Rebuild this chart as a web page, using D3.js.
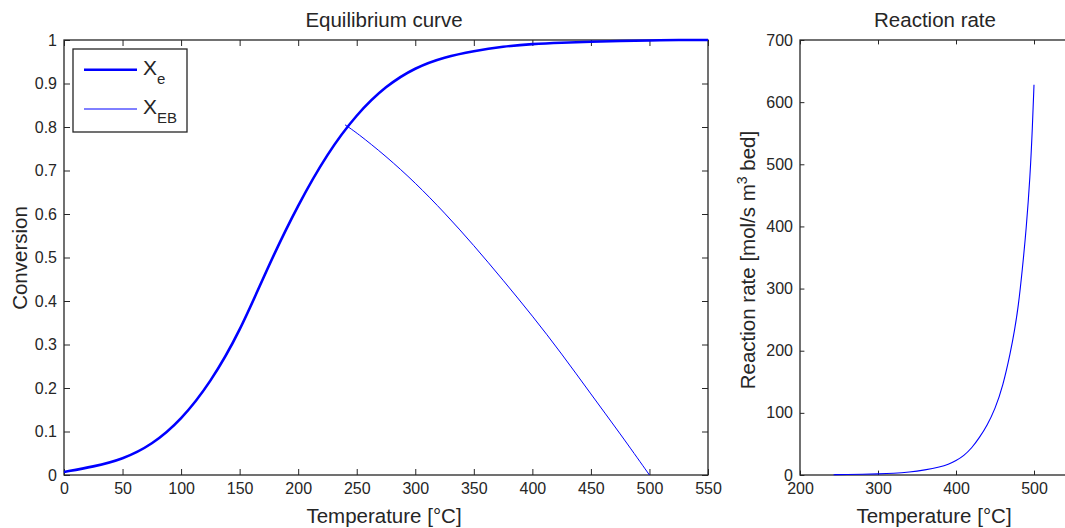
<!DOCTYPE html>
<html>
<head>
<meta charset="utf-8">
<script src="https://cdn.jsdelivr.net/npm/d3@7"></script>
<style>
  body { margin: 0; background: #fff; }
  svg { display: block; font-family: "Liberation Sans", Arial, sans-serif; }
</style>
</head>
<body>
<div id="chart"></div>
<script>
// equilibrium conversion Xe vs temperature
var eqTemp = [0, 25, 50, 75, 100, 125, 150, 175, 200, 225, 250, 275, 300, 325, 350, 375, 400, 425, 450, 475, 500, 525, 550];
var eqConv = [0.007, 0.019, 0.036, 0.069, 0.126, 0.212, 0.328, 0.484, 0.622, 0.74, 0.83, 0.895, 0.937, 0.961, 0.975, 0.985, 0.991, 0.994, 0.996, 0.998, 0.999, 1.0, 1.0];
// energy balance line XEB
var ebTemp = [240, 250, 275, 300, 325, 350, 375, 400, 425, 450, 475, 500];
var ebConv = [0.805, 0.787, 0.733, 0.672, 0.603, 0.528, 0.448, 0.366, 0.279, 0.186, 0.095, 0];
// reaction rate
var rateTemp = [243, 260, 280, 300, 320, 340, 360, 380, 390, 400, 410, 420, 430, 440, 450, 460, 470, 475, 480, 485, 490, 495, 498, 500];
var rateVal = [0.5, 0.8, 1.2, 1.8, 2.6, 4.5, 8, 13, 17, 23, 31, 43, 60, 80, 106, 142, 198, 232, 272, 330, 395, 480, 560, 628];

var xTicksLeft = d3.range(0, 551, 50);
var yTicksLeft = d3.range(0, 1.001, 0.1);
var xTicksRight = [200, 300, 400, 500];
var yTicksRight = d3.range(0, 701, 100);

var W = 1065, H = 528;
var ink = "#262626";

var svg = d3.select("#chart").append("svg")
    .attr("width", W).attr("height", H);
svg.append("rect").attr("width", W).attr("height", H).attr("fill", "#fff");

function zip(a, b) { return a.map(function(d, i){ return [d, b[i]]; }); }

function panel(box, xDom, yDom, xTicks, yTicks, tick, yFmt) {
    var x = d3.scaleLinear().domain(xDom).range([box.x0, box.x1]);
    var y = d3.scaleLinear().domain(yDom).range([box.y1, box.y0]);
    var g = svg.append("g");

    // ticks on all four sides, pointing in
    function styleAxis(sel) {
        sel.select(".domain").remove();
        sel.selectAll("line").attr("stroke", ink);
        sel.selectAll("text").attr("fill", ink).attr("font-size", "16px");
    }
    g.append("g").attr("transform", "translate(0," + box.y1 + ")")
        .call(d3.axisBottom(x).tickValues(xTicks).tickSize(-tick).tickPadding(8).tickFormat(d3.format("d")))
        .call(styleAxis);
    g.append("g").attr("transform", "translate(0," + box.y0 + ")")
        .call(d3.axisTop(x).tickValues(xTicks).tickSize(-tick).tickFormat(""))
        .call(styleAxis);
    g.append("g").attr("transform", "translate(" + box.x0 + ",0)")
        .call(d3.axisLeft(y).tickValues(yTicks).tickSize(-tick).tickPadding(7).tickFormat(yFmt))
        .call(styleAxis);
    g.append("g").attr("transform", "translate(" + box.x1 + ",0)")
        .call(d3.axisRight(y).tickValues(yTicks).tickSize(-tick).tickFormat(""))
        .call(styleAxis);

    g.append("rect")
        .attr("x", box.x0).attr("y", box.y0)
        .attr("width", box.x1 - box.x0).attr("height", box.y1 - box.y0)
        .attr("fill", "none").attr("stroke", ink).attr("stroke-width", 1.3);

    return {x: x, y: y, g: g};
}

// ---------- left: equilibrium curve
var L = panel({x0: 64, x1: 708, y0: 40, y1: 475}, [0, 550], [0, 1],
    xTicksLeft, yTicksLeft, 6,
    function(d){ return d === 0 ? "0" : d === 1 ? "1" : d3.format(".1f")(d); });

var lineL = d3.line().x(function(d){ return L.x(d[0]); }).y(function(d){ return L.y(d[1]); })
    .curve(d3.curveBasis);

L.g.append("path").datum(zip(eqTemp, eqConv))
    .attr("d", lineL).attr("fill", "none").attr("stroke", "#0000ff").attr("stroke-width", 2.6);
L.g.append("path").datum(zip(ebTemp, ebConv))
    .attr("d", lineL).attr("fill", "none").attr("stroke", "#0000ff").attr("stroke-width", 1);

svg.append("text").attr("x", 384).attr("y", 27).attr("text-anchor", "middle")
    .attr("font-size", "20.5px").attr("fill", ink).text("Equilibrium curve");
svg.append("text").attr("x", 384).attr("y", 523).attr("text-anchor", "middle")
    .attr("font-size", "20.5px").attr("fill", ink).text("Temperature [°C]");
svg.append("text").attr("transform", "translate(27,258) rotate(-90)").attr("text-anchor", "middle")
    .attr("font-size", "20.5px").attr("fill", ink).text("Conversion");

// legend
var legendItems = [
    {sub: "e", width: 2.6, ly: 69.7},
    {sub: "EB", width: 1, ly: 109}
];
var leg = svg.append("g");
leg.append("rect").attr("x", 73).attr("y", 49).attr("width", 114).attr("height", 83)
    .attr("fill", "#fff").attr("stroke", ink).attr("stroke-width", 1.3);
legendItems.forEach(function(it){
    leg.append("line").attr("x1", 84).attr("x2", 137).attr("y1", it.ly).attr("y2", it.ly)
        .attr("stroke", "#0000ff").attr("stroke-width", it.width);
    var t = leg.append("text").attr("x", 143).attr("y", it.ly + 5).attr("fill", ink).attr("font-size", "21px");
    t.append("tspan").text("X");
    t.append("tspan").attr("dy", 9).attr("font-size", "15px").text(it.sub);
});

// ---------- right: reaction rate
var R = panel({x0: 800, x1: 1073, y0: 40, y1: 475}, [200, 550], [0, 700],
    xTicksRight, yTicksRight, 4.4, d3.format("d"));

var lineR = d3.line().x(function(d){ return R.x(d[0]); }).y(function(d){ return R.y(d[1]); })
    .curve(d3.curveBasis);
R.g.append("path").datum(zip(rateTemp, rateVal))
    .attr("d", lineR).attr("fill", "none").attr("stroke", "#0000ff").attr("stroke-width", 1.1);

svg.append("text").attr("x", 935).attr("y", 27).attr("text-anchor", "middle")
    .attr("font-size", "20.5px").attr("fill", ink).text("Reaction rate");
svg.append("text").attr("x", 934).attr("y", 523).attr("text-anchor", "middle")
    .attr("font-size", "20.5px").attr("fill", ink).text("Temperature [°C]");
var yl = svg.append("text").attr("transform", "translate(755,260) rotate(-90)").attr("text-anchor", "middle")
    .attr("font-size", "20.5px").attr("fill", ink);
yl.append("tspan").text("Reaction rate [mol/s m");
yl.append("tspan").attr("dy", -8).attr("font-size", "14px").text("3");
yl.append("tspan").attr("dy", 8).text(" bed]");
</script>
</body>
</html>
